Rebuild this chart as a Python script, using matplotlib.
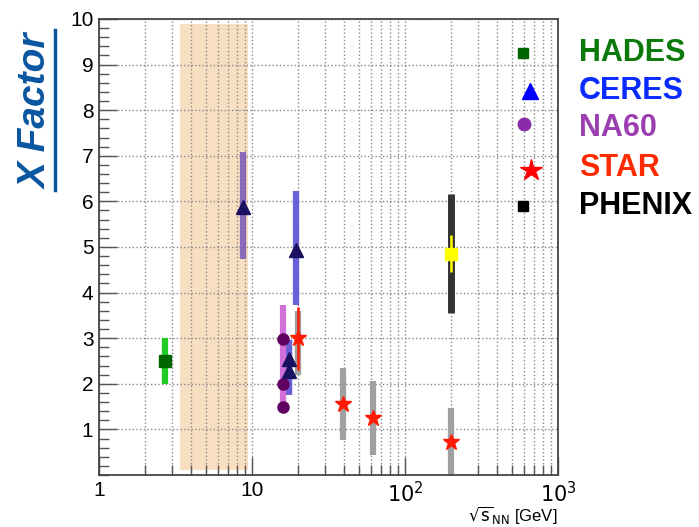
import numpy as np
import matplotlib.pyplot as plt
from matplotlib.ticker import LogLocator, MultipleLocator, FixedLocator, FixedFormatter
from matplotlib.lines import Line2D

plt.rcParams['font.family'] = ['Liberation Sans', 'DejaVu Sans']

# data
hades_x, hades_y, hades_lo, hades_hi = [2.7], [2.5], [2.0], [3.0]

ceres_x = [8.8, 19.5, 17.5, 17.5]
ceres_y = [5.88, 4.93, 2.54, 2.28]
ceres_lo = [4.74, 3.73, 1.75, 1.75]
ceres_hi = [7.08, 6.23, 2.96, 2.96]

na60_x = [16.0, 16.0, 16.0]
na60_y = [2.98, 2.0, 1.49]
na60_lo, na60_hi = 1.6, 3.73

star_x = [19.9, 39.3, 62.0, 200.0]
star_y = [3.0, 1.56, 1.25, 0.73]
star_syst_lo = [2.2, 0.77, 0.44, 0.03]
star_syst_hi = [3.6, 2.35, 2.06, 1.47]
star_stat_lo, star_stat_hi = [2.3], [3.68]

phenix_x, phenix_y = [200.0], [4.85]
phenix_syst = (3.56, 6.16)
phenix_stat = (4.46, 5.26)

band_x = (3.4, 9.4)
band_y = (0.1, 9.9)

legend_names = ['HADES', 'CERES', 'NA60', 'STAR', 'PHENIX']
legend_colors = ['#0b7a0b', '#0a2bff', '#9b3fb0', '#ff2a00', '#000000']

fig = plt.figure(figsize=(6.99, 5.27), dpi=100)
ax = fig.add_axes([0.1416, 0.0987, 0.6567, 0.8653])

ax.fill_between(band_x, band_y[0], band_y[1], color='#f9dfc2', zorder=1, linewidth=0)

# HADES
ax.vlines(hades_x, hades_lo, hades_hi, color='#22cc22', lw=4.5, zorder=3)
ax.plot(hades_x, hades_y, 's', color='#006400', ms=8, zorder=5)

# CERES
ax.vlines(ceres_x[0], ceres_lo[0], ceres_hi[0], color='#7050b8', lw=4.5, alpha=0.8, zorder=3)
ax.vlines(ceres_x[1:], ceres_lo[1:], ceres_hi[1:], color='#6a5fd6', lw=4.5, zorder=3)

# NA60
ax.vlines(na60_x[0], na60_lo, na60_hi, color='#d070d8', lw=4.5, zorder=3)
ax.plot(na60_x, na60_y, 'o', color='#600060', ms=8, zorder=5)
ax.plot(ceres_x, ceres_y, '^', color='#1a1060', ms=10, zorder=6)

# STAR
ax.vlines(star_x, star_syst_lo, star_syst_hi, color='#a0a0a0', lw=4.5, zorder=3)
ax.vlines(star_x[0] * 1.01, star_stat_lo, star_stat_hi, color='#ff1a00', lw=1.8, zorder=4)
ax.plot(star_x, star_y, '*', color='#ff1a00', ms=12, zorder=6)

# PHENIX
ax.vlines(phenix_x, *phenix_syst, color='#333333', lw=5, zorder=3)
ax.vlines(phenix_x, *phenix_stat, color='#ffff00', lw=1.8, zorder=4)
ax.plot(phenix_x, phenix_y, 's', color='#ffff00', ms=9, zorder=5)

ax.set_xscale('log')
ax.set_xlim(1, 1000)
ax.set_ylim(0, 10)

ax.xaxis.set_major_locator(FixedLocator([1, 10, 100, 1000]))
ax.xaxis.set_major_formatter(FixedFormatter(['1', '10', r'$10^2$', r'$10^3$']))
ax.xaxis.set_minor_locator(LogLocator(base=10, subs=np.arange(2, 10), numticks=20))
ax.xaxis.set_minor_formatter(plt.NullFormatter())
ax.yaxis.set_major_locator(MultipleLocator(1))
ax.yaxis.set_minor_locator(MultipleLocator(0.2))
ax.set_yticks(range(1, 11))

ax.tick_params(which='both', direction='in', top=False, right=False, labelsize=15, color='#555555')
ax.tick_params(which='major', length=13, width=1)
ax.tick_params(which='minor', length=7, width=1)
ax.tick_params(axis='x', pad=4)
ax.tick_params(axis='y', pad=4)

ax.grid(which='major', axis='y', linestyle=':', color='#888888', lw=1)
ax.grid(which='both', axis='x', linestyle=':', color='#888888', lw=1)
for s in ax.spines.values():
    s.set_color('#444444')
    s.set_linewidth(1.3)

# y label, underlined
fig.text(0.052, 0.789, 'X Factor', rotation=90, ha='center', va='center',
         fontsize=28, fontweight='bold', fontstyle='italic', color='#0a56a0')
fig.add_artist(Line2D([0.078, 0.078], [0.639, 0.943], color='#0a56a0', lw=2.5))

fig.text(0.797, 0.002, r'$\sqrt{\mathrm{s}}_{\mathrm{NN}}$ [GeV]', ha='right', va='bottom', fontsize=12)

# legend
leg_y = [0.925, 0.842, 0.770, 0.669, 0.590]
leg_mk = [('s', 7, '#006400', 0.924), ('^', 12, '#0000ff', 0.939), ('o', 9, '#8b2aa8', 0.926),
          ('*', 16, '#ff0000', 0.941), ('s', 7, '#000000', 0.924)]
for (m, ms, c, mx), yy in zip(leg_mk, leg_y):
    ax.plot([mx], [yy], m, ms=ms, color=c, transform=ax.transAxes, clip_on=False, zorder=7)
fig_leg_y = [1 - 53 / 527, 1 - 91 / 527, 1 - 128 / 527, 1 - 168 / 527, 1 - 206 / 527]
for name, c, yy in zip(legend_names, legend_colors, fig_leg_y):
    fig.text(0.828, yy, name, color=c, fontsize=22, fontweight='bold', ha='left', va='center')

fig.savefig('out.png', dpi=100)
